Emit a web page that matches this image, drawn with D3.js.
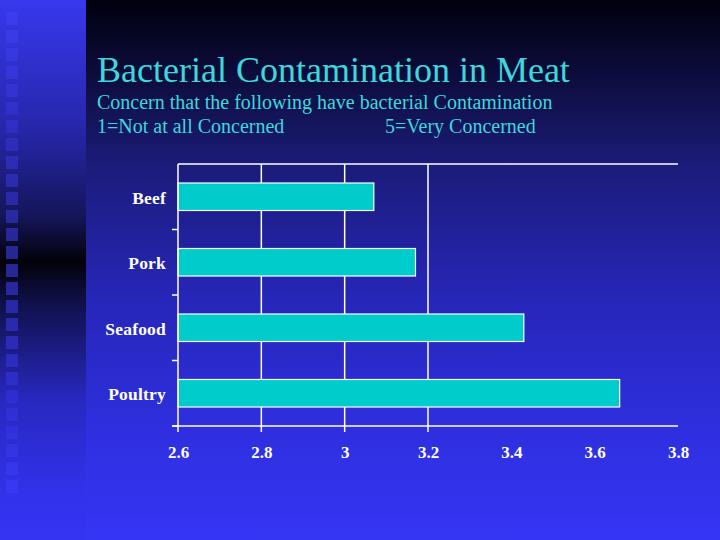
<!DOCTYPE html>
<html>
<head>
<meta charset="utf-8">
<script src="https://cdn.jsdelivr.net/npm/d3@7"></script>
<style>
html,body{margin:0;padding:0;background:#000;}
svg{display:block;}
text{font-family:"Liberation Serif","DejaVu Serif",serif;}
</style>
</head>
<body>
<svg id="chart" width="720" height="540"></svg>
<script>
const categories = ["Beef", "Pork", "Seafood", "Poultry"];
const values = [3.07, 3.17, 3.43, 3.66];
const xTicks = [2.6, 2.8, 3.0, 3.2, 3.4, 3.6, 3.8];
const gridTicks = [2.8, 3.0, 3.2];
const title = "Bacterial Contamination in Meat";
const subtitle1 = "Concern that the following have bacterial Contamination";
const subLeft = "1=Not at all Concerned";
const subRight = "5=Very Concerned";

const svg = d3.select("#chart");
const W = 720, H = 540;
const defs = svg.append("defs");

const gMain = defs.append("linearGradient").attr("id","gMain").attr("x1",0).attr("y1",0).attr("x2",0).attr("y2",1);
[[0,"#00000e"],[0.2,"#121252"],[0.3,"#1b1b78"],[0.55,"#2626b8"],[0.8,"#2f2fe0"],[1,"#3535f5"]]
  .forEach(s=>gMain.append("stop").attr("offset",s[0]).attr("stop-color",s[1]));
const gLeft = defs.append("linearGradient").attr("id","gLeft").attr("x1",0).attr("y1",0).attr("x2",0).attr("y2",1);
[[0,"#3838ee"],[0.24,"#2626aa"],[0.4,"#15155a"],[0.485,"#02020a"],[0.56,"#10104a"],[0.74,"#2828c0"],[0.92,"#3232ec"],[1,"#3434f2"]]
  .forEach(s=>gLeft.append("stop").attr("offset",s[0]).attr("stop-color",s[1]));
const gSq = defs.append("linearGradient").attr("id","gSq").attr("gradientUnits","userSpaceOnUse")
  .attr("x1",0).attr("y1",0).attr("x2",0).attr("y2",540);
[[0,"#3e3ef6"],[0.24,"#2e2ec2"],[0.48,"#262690"],[0.74,"#2e2ed0"],[0.9,"#3838f2"],[1,"#3838f2"]]
  .forEach(s=>gSq.append("stop").attr("offset",s[0]).attr("stop-color",s[1]));

svg.append("rect").attr("x",86).attr("y",0).attr("width",W-86).attr("height",H).attr("fill","url(#gMain)");
svg.append("rect").attr("x",0).attr("y",0).attr("width",86).attr("height",H).attr("fill","url(#gLeft)");

// decorative squares
const sq = d3.range(27);
svg.append("g").selectAll("rect").data(sq).join("rect")
  .attr("x",6).attr("y",d=>12+18*d).attr("width",12).attr("height",13)
  .attr("fill","url(#gSq)");

// titles
const serif = "Liberation Serif, DejaVu Serif, serif";
const cyan = "#3cd8dc";
function txt(xp, yp, s, size){
  return svg.append("text").attr("x",xp).attr("y",yp).attr("fill",cyan)
    .attr("font-family",serif).attr("font-size",size).text(s);
}
txt(97, 82, title, 36);
txt(97, 109, subtitle1, 20);
txt(97, 133, subLeft, 20);
txt(385, 133, subRight, 20);

// chart
const x0 = 178, x1 = 678, yTop = 164, yBot = 426;
const x = d3.scaleLinear().domain([2.6, 3.8]).range([x0, x1]);
const y = d3.scaleBand().domain(categories).range([yTop, yBot]).paddingInner(0.58).paddingOuter(0.29);
const yb = d3.scaleBand().domain(categories).range([yTop, yBot]);

const g = svg.append("g");
g.selectAll("line.grid").data(gridTicks).join("line").attr("class","grid")
  .attr("x1",d=>x(d)).attr("x2",d=>x(d)).attr("y1",yTop).attr("y2",yBot+6)
  .attr("stroke","#fff").attr("stroke-width",1.5);
g.append("line").attr("x1",x0).attr("x2",x1).attr("y1",yTop).attr("y2",yTop)
  .attr("stroke","#fff").attr("stroke-width",1.5);

g.selectAll("rect.bar").data(categories).join("rect").attr("class","bar")
  .attr("x",x(2.6)).attr("y",d=>y(d)).attr("width",(d,i)=>x(values[i])-x(2.6))
  .attr("height",y.bandwidth())
  .attr("fill","#00cccc").attr("stroke","#ffffff").attr("stroke-width",1.2);

const xAxis = d3.axisBottom(x).tickValues(xTicks).tickSize(0).tickPadding(20)
  .tickFormat(d=>String(+d.toFixed(1)));
const gx = g.append("g").attr("transform",`translate(0,${yBot})`).call(xAxis);
gx.select(".domain").attr("stroke","#fff").attr("stroke-width",1.5).attr("d",`M${x0-6},0H${x1}`);
gx.selectAll("text").attr("fill","#fff").attr("font-family",serif).attr("font-size",17).attr("font-weight","bold");
gx.selectAll("line").remove();
g.append("line").attr("x1",x0).attr("x2",x0).attr("y1",yBot).attr("y2",yBot+6).attr("stroke","#fff").attr("stroke-width",1.5);

const gy = g.append("g").attr("transform",`translate(${x0},1.5)`).call(d3.axisLeft(y).tickSize(0).tickPadding(12));
gy.select(".domain").attr("stroke","#fff").attr("stroke-width",1.5).attr("d",`M0,${yTop-1.5}V${yBot-1.5}`);
gy.selectAll("text").attr("fill","#fff").attr("font-family",serif).attr("font-size",17.5)
  .attr("font-weight","bold").attr("letter-spacing","0.2px");
g.selectAll("line.ytick").data(categories).join("line").attr("class","ytick")
  .attr("x1",x0-6).attr("x2",x0).attr("y1",d=>yb(d)+yb.bandwidth()).attr("y2",d=>yb(d)+yb.bandwidth())
  .attr("stroke","#fff").attr("stroke-width",1.5);
</script>
</body>
</html>
